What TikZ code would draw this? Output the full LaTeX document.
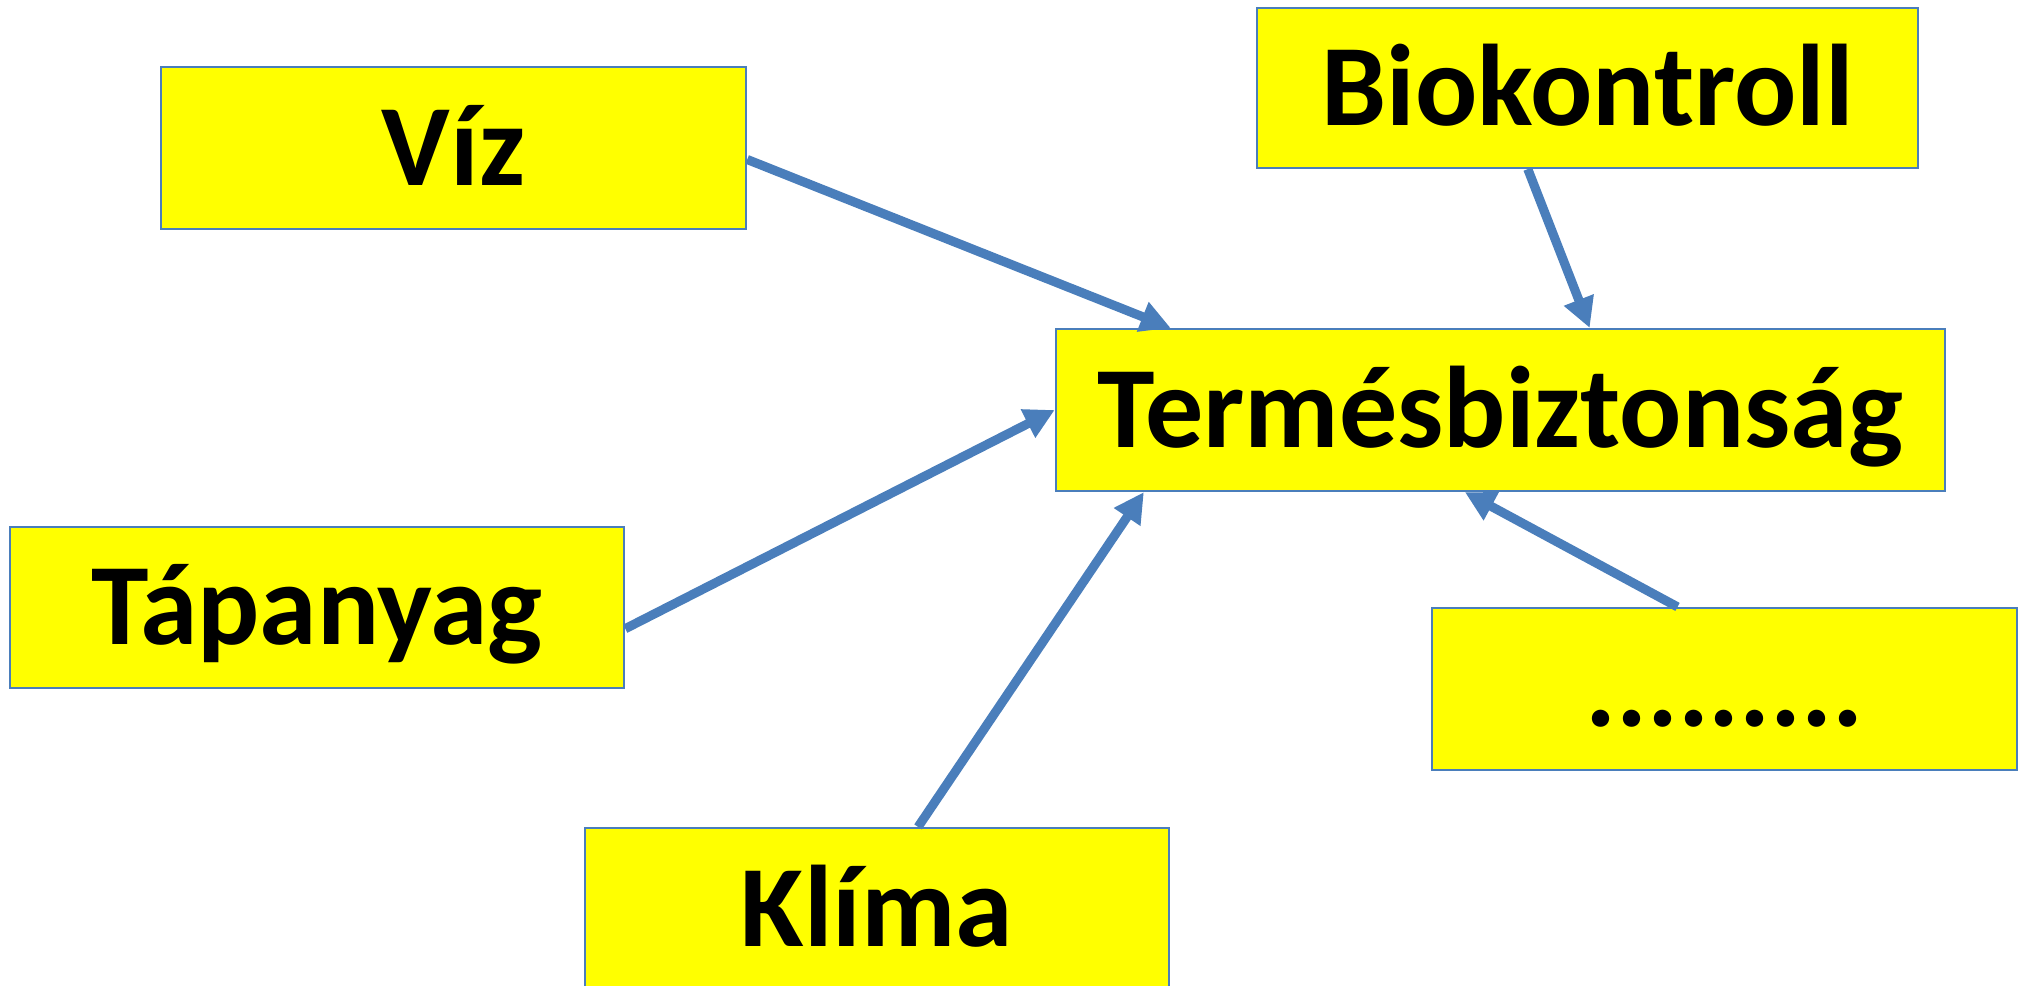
\documentclass[tikz,border=0pt]{standalone}
\usepackage{fontspec}
\setmainfont{Carlito}
\usetikzlibrary{arrows.meta,calc,positioning}
\definecolor{tbyellow}{RGB}{255,255,0}
\definecolor{tbblue}{RGB}{74,126,187}
\tikzset{
  tbbox/.style={draw=tbblue, line width=.6pt, fill=tbyellow, inner sep=0pt, align=center,
    font=\fontsize{33}{40}\selectfont\bfseries, text height=.74cm, text depth=0cm},
  tbarr/.style={-{Triangle[length=.3cm, width=.3cm]}, line width=2.6pt, draw=tbblue}
}

\begin{document}
\begin{tikzpicture}[x=.01cm, y=-.01cm]
  \useasboundingbox (0,0) rectangle (2025,985);
  \clip (0,0) rectangle (2025,985);
  \node[tbbox, minimum width=5.85cm, minimum height=1.62cm] (viz) at (453.5,148) {Víz};
  \node[tbbox, minimum width=6.61cm, minimum height=1.60cm] (bio) at (1587.5,88) {Biokontroll};
  \node[tbbox, minimum width=8.89cm, minimum height=1.62cm] (term) at (1500.5,410) {Termésbiztonság};
  \node[tbbox, minimum width=6.14cm, minimum height=1.61cm] (tap) at (317,607.5) {Tápanyag};
  \node[tbbox, minimum width=5.85cm, minimum height=1.62cm] (dots) at (1724.5,689) {.........};
  \node[tbbox, minimum width=5.84cm, minimum height=1.62cm] (klima) at (877,909) {Klíma};
  % connectors into the centre box
  \draw[tbarr] ($(viz.north east)!.57!(viz.south east)$) -- ($(term.north west)!.13!(term.north east)$);
  \draw[tbarr] ($(bio.south west)!.41!(bio.south east)$) -- ($(term.north west)!.60!(term.north east)$);
  \draw[tbarr] ($(tap.north east)!.63!(tap.south east)$) -- (term.west);
  \draw[tbarr] ($(klima.north west)!.57!(klima.north east)$) -- ($(term.south west)!.10!(term.south east)$);
  \draw[tbarr] ($(dots.north west)!.42!(dots.north east)$) -- ($(term.south west)!.46!(term.south east)$);
\end{tikzpicture}
\end{document}
